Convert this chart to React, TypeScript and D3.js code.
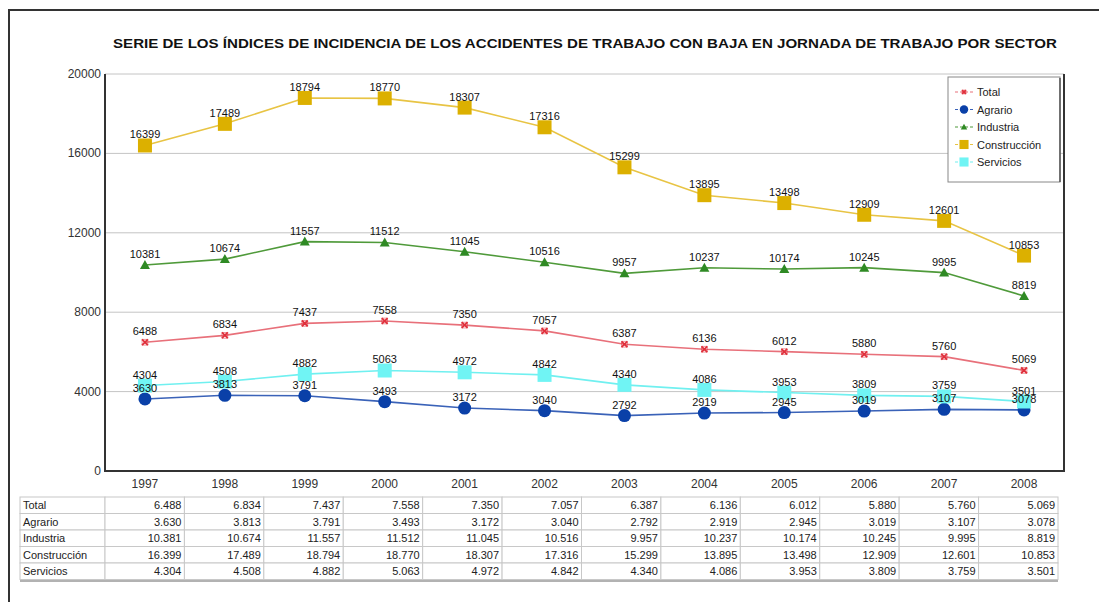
import React from 'react';
import * as d3 from 'd3';

const years = ['1997', '1998', '1999', '2000', '2001', '2002', '2003', '2004', '2005', '2006', '2007', '2008'];
const total = [6488, 6834, 7437, 7558, 7350, 7057, 6387, 6136, 6012, 5880, 5760, 5069];
const agrario = [3630, 3813, 3791, 3493, 3172, 3040, 2792, 2919, 2945, 3019, 3107, 3078];
const industria = [10381, 10674, 11557, 11512, 11045, 10516, 9957, 10237, 10174, 10245, 9995, 8819];
const construccion = [16399, 17489, 18794, 18770, 18307, 17316, 15299, 13895, 13498, 12909, 12601, 10853];
const servicios = [4304, 4508, 4882, 5063, 4972, 4842, 4340, 4086, 3953, 3809, 3759, 3501];
const yTicks = [0, 4000, 8000, 12000, 16000, 20000];

const title = 'SERIE DE LOS ÍNDICES DE INCIDENCIA DE LOS ACCIDENTES DE TRABAJO CON BAJA EN JORNADA DE TRABAJO POR SECTOR';

type Marker = 'x' | 'circle' | 'triangle' | 'square';
const series: { name: string; values: number[]; line: string; fill: string; marker: Marker }[] = [
  { name: 'Total', values: total, line: '#e8707a', fill: '#e0303c', marker: 'x' },
  { name: 'Agrario', values: agrario, line: '#3a62b8', fill: '#0a40a8', marker: 'circle' },
  { name: 'Industria', values: industria, line: '#4f9a3a', fill: '#2f8a24', marker: 'triangle' },
  { name: 'Construcción', values: construccion, line: '#e8c444', fill: '#dcb000', marker: 'square' },
  { name: 'Servicios', values: servicios, line: '#70f0f0', fill: '#70f4f4', marker: 'square' },
];

const FONT = '"Liberation Sans", Arial, sans-serif';

const plot = { left: 105, right: 1064, top: 74, bottom: 471 };

function MarkerShape({ type, x, y, fill, size }: { type: Marker; x: number; y: number; fill: string; size: number }) {
  if (type === 'x') {
    const s = size * 0.32;
    return (
      <g>
        <rect x={x - s} y={y - s} width={s * 2} height={s * 2} fill="none" stroke={fill} strokeWidth={0.8} opacity={0.6} />
        <path d={`M${x - s},${y - s}L${x + s},${y + s}M${x - s},${y + s}L${x + s},${y - s}`} stroke={fill} strokeWidth={1.8} />
      </g>
    );
  }
  if (type === 'circle') return <circle cx={x} cy={y} r={size * 0.5} fill={fill} />;
  if (type === 'triangle') {
    const s = size * 0.5;
    return <path d={`M${x},${y - s}L${x + s},${y + s * 0.8}L${x - s},${y + s * 0.8}Z`} fill={fill} />;
  }
  return <rect x={x - size * 0.5} y={y - size * 0.5} width={size} height={size} fill={fill} />;
}

export default function App() {
  const x = d3.scaleBand<string>().domain(years).range([plot.left, plot.right]);
  const cx = (yr: string) => (x(yr) ?? 0) + x.bandwidth() / 2;
  const y = d3.scaleLinear().domain([0, 20000]).range([plot.bottom, plot.top]);
  // table columns are a touch narrower than the plot bands
  const xt = d3.scaleBand<string>().domain(years).range([plot.left, 1058]);
  const fmtTable = (v: number) => d3.format(',')(v).replace(/,/g, '.');

  const markerSize: Record<string, number> = { Total: 9, Agrario: 13, Industria: 10, 'Construcción': 14, Servicios: 14 };

  const table = { left: 20, top: 497, rowH: 16.5 };

  return (
    <svg width={1099} height={602} style={{ position: 'absolute', left: 0, top: 0, background: '#fff' }} fontFamily={FONT}>
      {/* frame */}
      <path d="M9,602V10H1099" fill="none" stroke="#333" strokeWidth={2} />

      <text x={585} y={48} textAnchor="middle" fontSize={13} fontWeight="bold" fill="#111" textLength={944} lengthAdjust="spacingAndGlyphs">
        {title}
      </text>

      {/* grid */}
      {yTicks.map(t => (
        <g key={t}>
          {t > 0 && <line x1={plot.left} x2={plot.right} y1={y(t)} y2={y(t)} stroke="#c4c4c4" strokeWidth={1} />}
          <text x={plot.left - 4} y={y(t) + 4} textAnchor="end" fontSize={12} fill="#333">{t}</text>
        </g>
      ))}

      {/* axes */}
      <path d={`M${plot.left},${plot.top}V${plot.bottom}H${plot.right}V${plot.top}`} fill="none" stroke="#333" strokeWidth={2} />

      {years.map(yr => (
        <text key={yr} x={cx(yr)} y={488} textAnchor="middle" fontSize={12} fill="#333">{yr}</text>
      ))}

      {/* lines */}
      {series.map(s => {
        const line = d3.line<number>().x((_, i) => cx(years[i])).y(d => y(d));
        return <path key={s.name} d={line(s.values) ?? ''} fill="none" stroke={s.line} strokeWidth={1.6} />;
      })}

      {series.map(s => (
        <g key={s.name + 'm'}>
          {s.values.map((v, i) => (
            <MarkerShape key={i} type={s.marker} x={cx(years[i])} y={y(v)} fill={s.fill} size={markerSize[s.name]} />
          ))}
        </g>
      ))}

      {series.map(s => (
        <g key={s.name + 'l'}>
          {s.values.map((v, i) => (
            <text key={i} x={cx(years[i])} y={y(v) - 7} textAnchor="middle" fontSize={11} fill="#111">{v}</text>
          ))}
        </g>
      ))}

      {/* legend */}
      <rect x={948} y={77} width={112} height={105} fill="#fff" stroke="#888" strokeWidth={1} />
      <line x1={1060} x2={1060} y1={78} y2={182} stroke="#555" strokeWidth={1.5} />
      {series.map((s, i) => {
        const ly = 92 + i * 17.5;
        return (
          <g key={s.name + 'lg'}>
            <line x1={955} x2={973} y1={ly} y2={ly} stroke={s.line} strokeWidth={1.2} strokeDasharray="3 2" />
            <MarkerShape type={s.marker} x={964} y={ly} fill={s.fill} size={markerSize[s.name] * 0.65} />
            <text x={977} y={ly + 4} fontSize={11} fill="#222">{s.name}</text>
          </g>
        );
      })}

      {/* table */}
      {series.map((s, r) => {
        const ty = table.top + r * table.rowH;
        return (
          <g key={s.name + 't'}>
            <rect x={table.left} y={ty} width={plot.left - table.left} height={table.rowH} fill="#fff" stroke="#c8c8c8" strokeWidth={1} />
            <text x={table.left + 3} y={ty + 12} fontSize={11} fill="#222">{s.name}</text>
            {s.values.map((v, i) => (
              <g key={i}>
                <rect x={xt(years[i]) ?? 0} y={ty} width={xt.bandwidth()} height={table.rowH} fill="#fff" stroke="#c8c8c8" strokeWidth={1} />
                <text x={(xt(years[i]) ?? 0) + xt.bandwidth() - 3} y={ty + 12} textAnchor="end" fontSize={11} fill="#222">{fmtTable(v)}</text>
              </g>
            ))}
          </g>
        );
      })}
      <line x1={table.left} x2={1058} y1={table.top + 5 * table.rowH + 1.5} y2={table.top + 5 * table.rowH + 1.5} stroke="#999" strokeWidth={1.5} />
    </svg>
  );
}
